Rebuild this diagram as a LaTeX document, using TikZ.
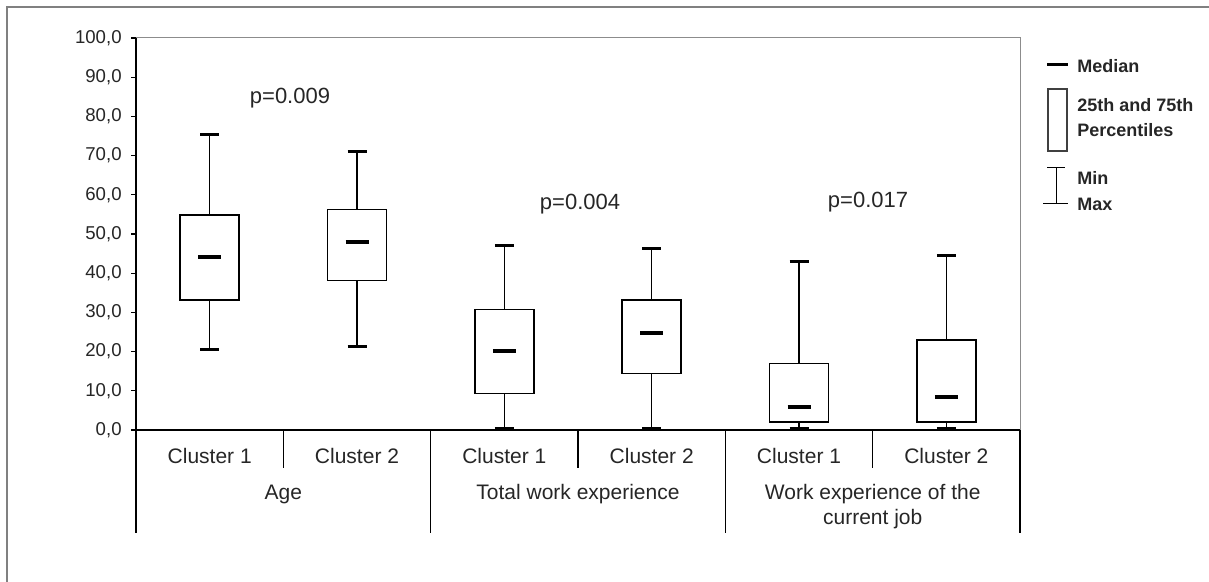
\documentclass[tikz,border=0pt]{standalone}
\usepackage{fontspec}
\setmainfont{Liberation Sans}
\usetikzlibrary{calc}

\tikzset{
  whisk/.style={line width=0.75pt},
  capline/.style={line width=1.5pt},
  qbox/.style={draw,line width=0.75pt,fill=white},
  medbar/.style={line width=2pt},
  ticklab/.style={anchor=east,inner sep=0pt,text=black!85,font=\fontsize{9.3}{10}\selectfont},
  catlab/.style={text=black!85,font=\fontsize{10.5}{12.4}\selectfont,align=center},
  plab/.style={text=black!85,font=\fontsize{11}{13}\selectfont},
  leglab/.style={anchor=west,text=black!85,inner sep=0pt,font=\bfseries\fontsize{9}{12.5}\selectfont}
}

\begin{document}
\begin{tikzpicture}[x=0.5pt,y=-0.5pt]
\useasboundingbox (0,0) rectangle (1209,582);
%outer frame
\draw[gray,line width=0.75pt] (7,582) -- (7,7) -- (1209,7);
%plot area
\draw[gray!90,line width=0.5pt] (136,38) -- (1020,38) -- (1020,430);
%y axis
\draw[line width=0.6pt] (136,38) -- (136,533);
\foreach \y in {0,10,...,100}
{\draw[line width=0.6pt] (131,{430-3.92*\y}) -- (136,{430-3.92*\y});
 \node[ticklab] (t\y) at (122,{430-3.92*\y}) {\y,0};}
%x axis
\draw[line width=0.6pt] (136,430) -- (1020,430);
\foreach \x in {283.3,578,872.7}
\draw[line width=0.6pt] (\x,430) -- (\x,468);
\foreach \x in {430.7,725.3,1020}
\draw[line width=0.6pt] (\x,430) -- (\x,533);
%categories
\foreach \x [count=\i] in {209.7,357,504.3,651.7,799,946.3}
{\pgfmathtruncatemacro\cl{2-mod(\i,2)}
 \node[catlab] (c\i) at (\x,456) {Cluster \cl};}
\node[catlab] (age) at (283.3,494) {Age};
\node[catlab] (twe) at (578,494) {Total work experience};
\node[catlab] (wcj) at (872.7,506.5) {Work experience of the\\current job};
%boxes
\foreach \cx/\lo/\qa/\md/\qb/\hi in {209.7/20.6/33.2/44.2/54.8/75.3,
  357/21.3/38.2/47.9/56.3/71.1, 504.3/0.4/9.3/20.2/30.8/47.1,
  651.7/0.4/14.4/24.8/33.2/46.3, 799/0.4/2.0/5.9/17.0/43.1,
  946.3/0.4/2.0/8.3/23.0/44.4}
{\pgfmathsetmacro\ylo{430-3.92*\lo}
 \pgfmathsetmacro\yqa{430-3.92*\qa}
 \pgfmathsetmacro\ymd{430-3.92*\md}
 \pgfmathsetmacro\yqb{430-3.92*\qb}
 \pgfmathsetmacro\yhi{430-3.92*\hi}
 \draw[whisk] (\cx,\ylo) -- (\cx,\yqa);
 \draw[whisk] (\cx,\yqb) -- (\cx,\yhi);
 \draw[capline] ({\cx-9.5},\ylo) -- ({\cx+9.5},\ylo);
 \draw[capline] ({\cx-9.5},\yhi) -- ({\cx+9.5},\yhi);
 \draw[qbox] ({\cx-29.5},\yqa) rectangle ({\cx+29.5},\yqb);
 \draw[medbar] ({\cx-11.5},\ymd) -- ({\cx+11.5},\ymd);}
%p values
\node[plab] (p1) at (290,98) {p=0.009};
\node[plab] (p2) at (580,204) {p=0.004};
\node[plab] (p3) at (868,202) {p=0.017};
%legend
\draw[line width=1.5pt] (1047,65) -- (1068,65);
\node[leglab] (lmed) at (1077,66) {Median};
\draw[black!75,line width=0.6pt] (1048,89) rectangle (1067,151);
\node[leglab,align=left] (lpct) at (1077,117.5) {25th and 75th\\Percentiles};
\draw[line width=0.5pt] (1047,167.5) -- (1065,167.5);
\draw[line width=0.5pt] (1056.5,167.5) -- (1056.5,203.5);
\draw[line width=0.5pt] (1043,203.5) -- (1068,203.5);
\node[leglab] (lmin) at (1077,178) {Min};
\node[leglab] (lmax) at (1077,204) {Max};
\end{tikzpicture}
\end{document}
